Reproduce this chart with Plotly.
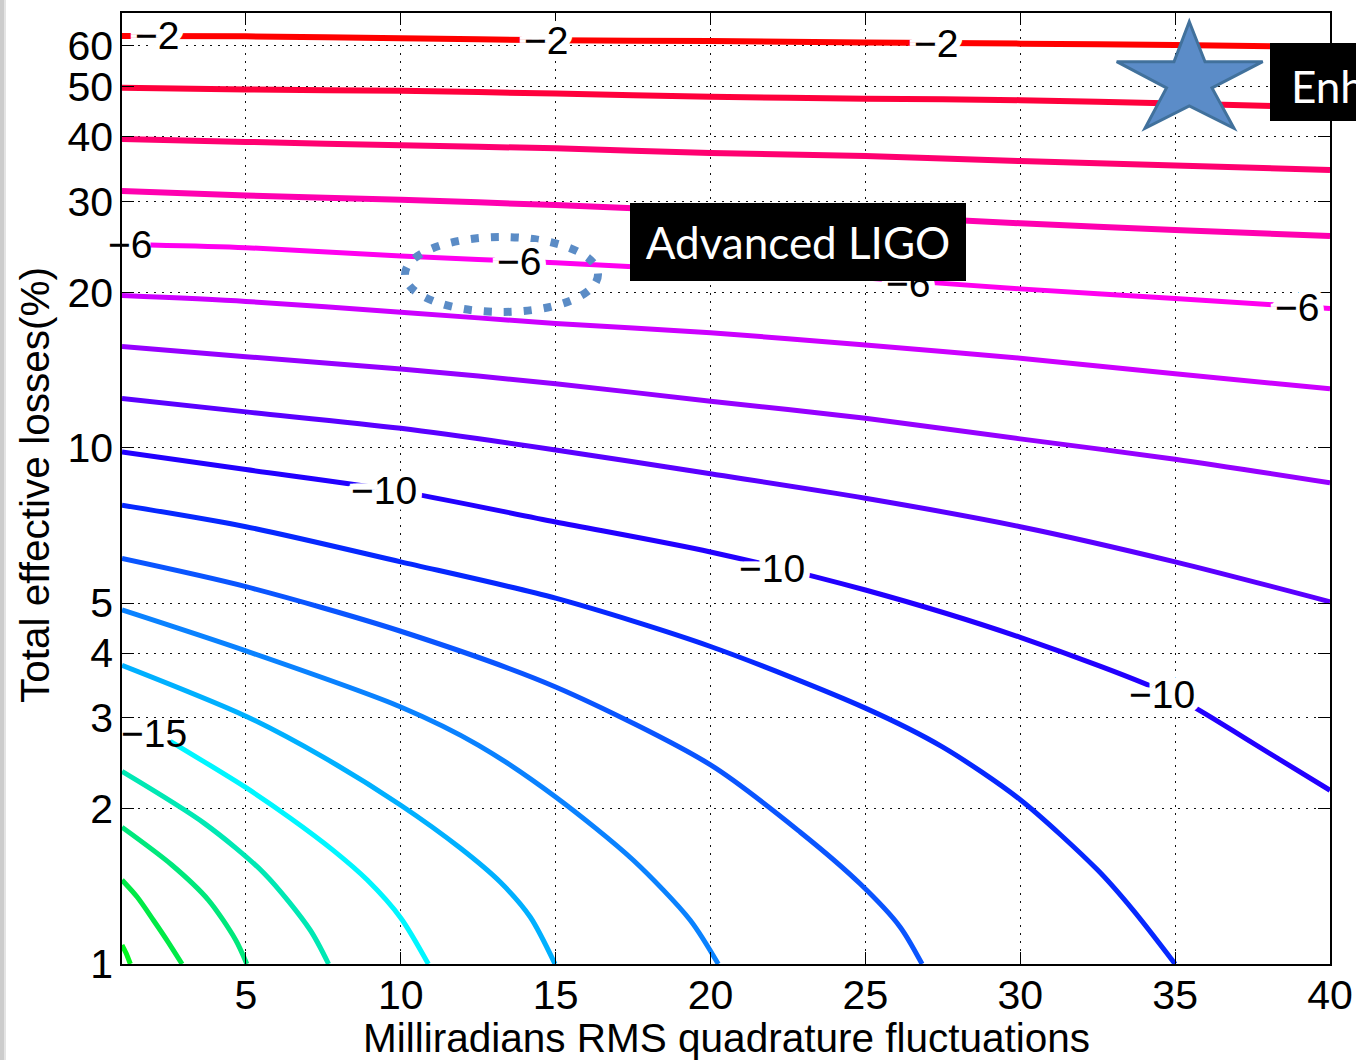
import math
import plotly.graph_objects as go

# ---------------- data ----------------
# contour levels (dB of squeezing)
levels = [-2, -3, -4, -5, -6, -7, -8, -9, -10, -11, -12, -13, -14, -15, -16, -17, -18, -19]

# nearly straight upper contours, read at common x positions (mrad)
x_read = [1, 5, 10, 15, 20, 25, 30, 35, 40]
y_m2 = [62.7, 62.6, 62.1, 61.5, 61.3, 60.9, 60.6, 60.2, 59.7]
y_m3 = [49.8, 49.4, 49.1, 48.5, 47.8, 47.4, 47.1, 46.4, 45.6]
y_m4 = [39.6, 39.1, 38.5, 38.0, 37.2, 36.7, 35.9, 35.2, 34.5]
y_m5 = [31.4, 30.8, 30.2, 29.5, 28.7, 28.1, 27.2, 26.4, 25.7]
x_m6 = [1.92, 5, 10, 15, 20, 25, 30, 35, 40]
y_m6 = [24.7, 24.4, 23.5, 22.8, 22.0, 21.3, 20.3, 19.45, 18.6]
y_m7 = [19.7, 19.2, 18.3, 17.4, 16.7, 15.8, 14.9, 13.9, 13.0]
y_m8 = [15.7, 15.0, 14.2, 13.3, 12.3, 11.4, 10.4, 9.5, 8.55]
y_m9 = [12.45, 11.73, 10.9, 9.9, 8.9, 7.98, 7.03, 6.01, 5.03]

# curved lower contours
x_m10 = [1, 5, 10, 15, 20, 25, 30, 35, 37.5, 40]
y_m10 = [9.81, 9.07, 8.22, 7.18, 6.28, 5.30, 4.29, 3.29, 2.68, 2.17]
x_m11 = [1, 5, 10, 15, 20, 25, 27.5, 30, 32.5, 33.65, 35.0]
y_m11 = [7.74, 7.03, 6.01, 5.11, 4.12, 3.13, 2.63, 2.08, 1.52, 1.27, 1.0]
x_m12 = [1, 5, 10, 15, 20, 22.9, 24.83, 26.12, 26.83]
y_m12 = [6.10, 5.38, 4.41, 3.44, 2.43, 1.80, 1.43, 1.18, 1.0]
x_m13 = [1, 5, 10, 12.5, 15, 17.5, 19.34, 20.25]
y_m13 = [4.85, 4.04, 3.146, 2.655, 2.106, 1.59, 1.217, 1.0]
x_m14 = [1, 5, 7.5, 10, 11.92, 13.21, 14.18, 14.98]
y_m14 = [3.79, 3.02, 2.516, 2.03, 1.677, 1.441, 1.233, 1.0]
x_m15 = [2.56, 4.98, 6.43, 7.82, 8.92, 10.0, 10.89]
y_m15 = [2.70, 2.20, 1.918, 1.66, 1.454, 1.228, 1.0]
x_m16 = [1, 3.67, 5.6, 7.07, 7.67]
y_m16 = [2.36, 1.87, 1.496, 1.165, 1.0]
x_m17 = [1, 2.61, 3.79, 4.67, 5.03]
y_m17 = [1.84, 1.555, 1.33, 1.113, 1.0]
x_m18 = [1, 1.49, 2.01, 2.49, 2.94]
y_m18 = [1.454, 1.348, 1.217, 1.103, 1.0]
x_m19 = [1, 1.13, 1.27]
y_m19 = [1.088, 1.05, 1.0]

# inline contour labels: text, x (mrad), y (%)
label_text = ["\u22122", "\u22122", "\u22122", "\u22126", "\u22126", "\u22126", "\u22126",
              "\u221210", "\u221210", "\u221210", "\u221215"]
label_x = [2.14, 14.7, 27.29, 1.25, 13.82, 26.38, 38.94, 9.47, 22.0, 34.56, 2.04]
label_y = [62.9, 61.5, 60.6, 24.7, 22.9, 20.8, 18.7, 8.27, 5.84, 3.32, 2.80]
label_halo = [True, True, True, False, True, True, True, True, True, True, False]

x_ticks = [5, 10, 15, 20, 25, 30, 35, 40]
y_ticks = [1, 2, 3, 4, 5, 10, 20, 30, 40, 50, 60]
y_ticklabels = ["1", "2", "3", "4", "5", "10", "20", "30", "40", "50", "60"]

x_title = "Milliradians RMS quadrature fluctuations"
y_title = "Total effective losses(%)"
callout_main = "Advanced LIGO"
callout_side = "Enh"

# ---------------- styling ----------------
W, H = 1356, 1060
ML, MR, MT, MB = 122, 26, 13, 96
PW, PH = W - ML - MR, H - MT - MB

colors = ["#ff0000", "#ff003c", "#ff0070", "#ff00b0", "#ff00f0", "#cc00ff", "#9600ff",
          "#5a00ff", "#2200ff", "#0628ff", "#0a55ff", "#0a82ff", "#00b0ff", "#00f6ff",
          "#00e8b4", "#00e87c", "#00ea46", "#00f61e"]

series = [
    (x_read, y_m2), (x_read, y_m3), (x_read, y_m4), (x_read, y_m5), (x_m6, y_m6),
    (x_read, y_m7), (x_read, y_m8), (x_read, y_m9), (x_m10, y_m10), (x_m11, y_m11),
    (x_m12, y_m12), (x_m13, y_m13), (x_m14, y_m14), (x_m15, y_m15), (x_m16, y_m16),
    (x_m17, y_m17), (x_m18, y_m18), (x_m19, y_m19),
]

FONT = "Liberation Sans, Arial, Helvetica, sans-serif"
CALLOUT_FONT = "Lato, Open Sans, sans-serif"

fig = go.Figure()
for lvl, (xs, ys), col in zip(levels, series, colors):
    width = 6 if lvl >= -5 else 5
    fig.add_trace(go.Scatter(
        x=xs, y=ys, mode="lines", name=str(lvl),
        line=dict(color=col, width=width, shape="spline", smoothing=0.8),
        hoverinfo="skip", showlegend=False,
    ))


def px(X):
    return (X - ML) / PW


def py(Y):
    return (MT + PH - Y) / PH


halo = ", ".join(f"{dx}px {dy}px 0 white" for dx, dy in
                 [(6, 0), (-6, 0), (0, 6), (0, -6), (4, 4), (-4, 4), (4, -4), (-4, -4),
                  (6, 3), (-6, 3), (6, -3), (-6, -3), (3, 6), (-3, 6), (3, -6), (-3, -6)])

annotations = []
for t, lx, ly, hl in zip(label_text, label_x, label_y, label_halo):
    f = dict(family=FONT, size=39, color="black")
    if hl:
        f["shadow"] = halo
    annotations.append(dict(x=lx, y=math.log10(ly), xref="x", yref="y", text=t,
                            showarrow=False, font=f, xanchor="center", yanchor="middle"))

# axis titles
annotations.append(dict(x=px(726), y=py(1038), xref="paper", yref="paper", text=x_title,
                        showarrow=False, font=dict(family=FONT, size=40.5, color="black"),
                        xanchor="center", yanchor="middle"))
annotations.append(dict(x=px(35), y=py(485), xref="paper", yref="paper", text=y_title,
                        showarrow=False, textangle=-90,
                        font=dict(family=FONT, size=40.5, color="black"),
                        xanchor="center", yanchor="middle"))

# callout: Advanced LIGO (drawn as an annotation box so it covers the lines and labels)
annotations.append(dict(x=px(630), y=py(203), xref="paper", yref="paper", text=callout_main,
                        showarrow=False, font=dict(family=CALLOUT_FONT, size=44, color="white"),
                        xanchor="left", yanchor="top", width=336, height=78, align="center",
                        valign="middle", bgcolor="black", borderpad=0, borderwidth=0))
annotations.append(dict(x=px(1289), y=py(86), xref="paper", yref="paper", text=callout_side,
                        showarrow=False, font=dict(family=CALLOUT_FONT, size=44, color="white"),
                        xanchor="left", yanchor="middle"))

shapes = []
# clipped right box
shapes.append(dict(type="rect", xref="paper", yref="paper", x0=px(1270), x1=px(1400),
                   y0=py(121), y1=py(43), fillcolor="black", line=dict(width=0), layer="above"))
# dashed ellipse
shapes.append(dict(type="circle", xref="paper", yref="paper", x0=px(405), x1=px(598),
                   y0=py(312), y1=py(237), fillcolor="rgba(0,0,0,0)",
                   line=dict(color="#5b8cc6", width=8, dash="8px,12px"), layer="above"))
# star
star_pts = [(1189.3, 21.7), (1205, 61.7), (1262.7, 61.7), (1212, 88), (1234, 128.3),
            (1189.3, 106), (1145, 128.3), (1166.5, 88), (1116.7, 61.7), (1174, 61.7)]
path = "M " + " L ".join(f"{px(a):.5f},{py(b):.5f}" for a, b in star_pts) + " Z"
shapes.append(dict(type="path", xref="paper", yref="paper", path=path,
                   fillcolor="#5b8cc8", line=dict(color="#41719c", width=3), layer="above"))
# grey strip at the left page edge
shapes.append(dict(type="rect", xref="paper", yref="paper", x0=px(0), x1=px(4),
                   y0=py(H), y1=py(0), fillcolor="#cccccc", line=dict(width=0), layer="above"))
shapes.append(dict(type="rect", xref="paper", yref="paper", x0=px(4), x1=px(6),
                   y0=py(H), y1=py(0), fillcolor="#e4e4e4", line=dict(width=0), layer="above"))

axis_common = dict(
    showgrid=True, gridcolor="#111111", gridwidth=1, griddash="2px,6px",
    ticks="inside", ticklen=12, tickwidth=1.3, tickcolor="black",
    showline=True, linecolor="black", linewidth=1.5, mirror="ticks",
    zeroline=False, automargin=False, tickfont=dict(family=FONT, size=41, color="black"),
)

fig.update_layout(
    width=W, height=H, autosize=False,
    margin=dict(l=ML, r=MR, t=MT, b=MB, pad=0, autoexpand=False),
    paper_bgcolor="white", plot_bgcolor="white",
    xaxis=dict(range=[1, 40], tickvals=x_ticks, ticktext=[str(v) for v in x_ticks],
               ticklabelstandoff=-6, **axis_common),
    yaxis=dict(type="log", range=[0, 1.8418], tickvals=y_ticks, ticktext=y_ticklabels,
               ticklabelstandoff=-1, **axis_common),
    annotations=annotations, shapes=shapes,
)

fig.write_html("out.html", config={"displayModeBar": False},
               post_script="document.body.style.margin='0px';document.body.style.overflow='hidden';")
